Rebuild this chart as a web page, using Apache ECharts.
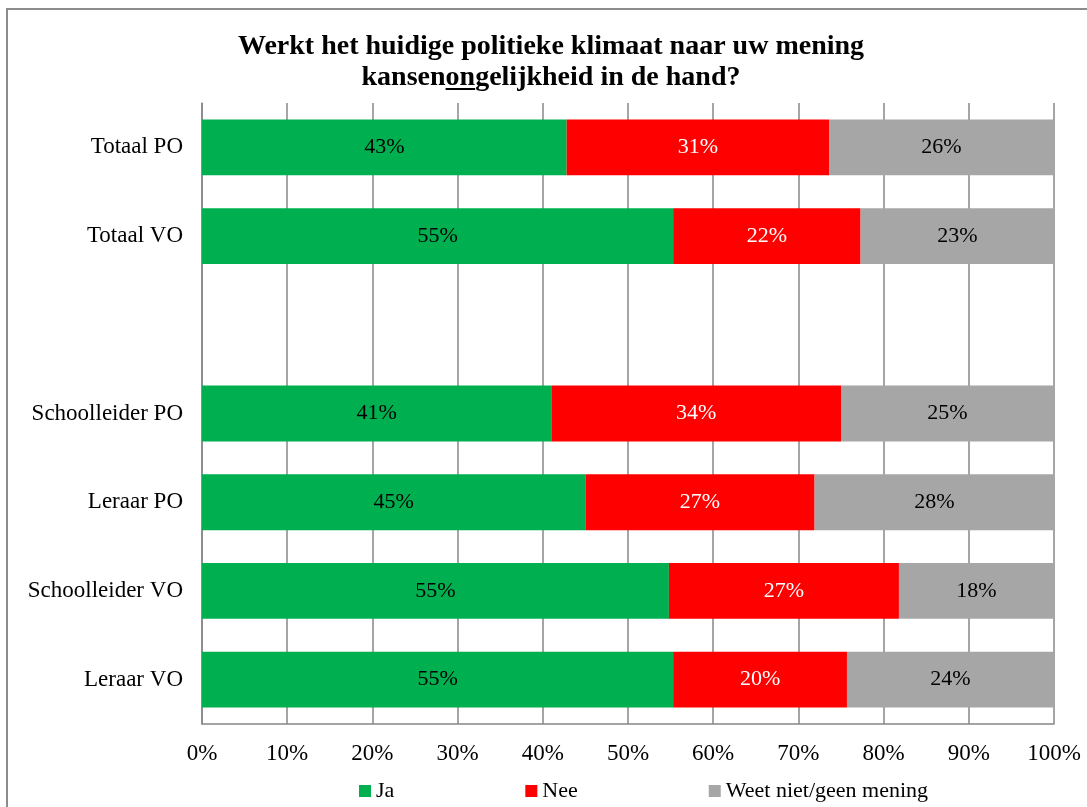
<!DOCTYPE html>
<html>
<head>
<meta charset="utf-8">
<script src="https://cdn.jsdelivr.net/npm/echarts@6/dist/echarts.min.js"></script>
<style>
  html, body { margin: 0; padding: 0; background: #fff; }
  #chart { width: 1087px; height: 807px; }
</style>
</head>
<body>
<div id="chart"></div>
<script>
  var categories = ['Totaal PO', 'Totaal VO', '', 'Schoolleider PO', 'Leraar PO', 'Schoolleider VO', 'Leraar VO'];
  var ja = [42.8, 55.3, null, 41.0, 45.0, 54.8, 55.3];
  var nee = [30.8, 22.0, null, 34.0, 26.9, 27.0, 20.4];
  var weetNiet = [26.4, 22.7, null, 25.0, 28.1, 18.2, 24.3];
  var seriesNames = ['Ja', 'Nee', 'Weet niet/geen mening'];
  var xTicks = [0, 10, 20, 30, 40, 50, 60, 70, 80, 90, 100];

  var FONT = '"Liberation Serif", "DejaVu Serif", serif';
  var titleLine1 = 'Werkt het huidige politieke klimaat naar uw mening';
  var titlePre = 'kansen', titleUnder = 'on', titlePost = 'gelijkheid in de hand?';
  var titleX = 551, titleSize = 28;

  function pct(p) { return Math.round(p.value) + '%'; }

  function barSeries(name, data, color, labelColor) {
    return {
      name: name,
      type: 'bar',
      stack: 'total',
      barWidth: '63%',
      data: data,
      itemStyle: { color: color },
      label: {
        show: true,
        position: 'inside',
        formatter: pct,
        color: labelColor,
        fontFamily: FONT,
        fontSize: 22
      }
    };
  }

  var chart = echarts.init(document.getElementById('chart'), null, { renderer: 'canvas' });

  chart.setOption({
    animation: false,
    title: {
      text: titleLine1 + '\n' + titlePre + titleUnder + titlePost,
      left: titleX,
      top: 31,
      padding: 0,
      textAlign: 'center',
      textStyle: { fontFamily: FONT, fontWeight: 'bold', fontSize: titleSize, lineHeight: 31, color: '#000' }
    },
    legend: {
      data: seriesNames,
      left: 359,
      top: 779,
      padding: 0,
      itemWidth: 12,
      itemHeight: 12,
      itemGap: 131,
      icon: 'rect',
      textStyle: { fontFamily: FONT, fontSize: 22, color: '#000', lineHeight: 24 }
    },
    grid: { left: 202, right: 33, top: 103, bottom: 83 },
    xAxis: {
      type: 'value',
      min: 0,
      max: 100,
      interval: 10,
      axisLine: { show: true, lineStyle: { color: '#878787', width: 1.5 } },
      axisTick: { show: false },
      axisLabel: {
        formatter: function (v) { return xTicks.indexOf(v) >= 0 ? v + '%' : ''; },
        color: '#000', fontFamily: FONT, fontSize: 23, margin: 18
      },
      splitLine: { show: true, lineStyle: { color: '#878787', width: 1.5 } }
    },
    yAxis: {
      type: 'category',
      inverse: true,
      data: categories,
      axisLine: { show: true, lineStyle: { color: '#878787', width: 1.5 } },
      axisTick: { show: false },
      axisLabel: { color: '#000', fontFamily: FONT, fontSize: 23, margin: 19 }
    },
    series: [
      barSeries(seriesNames[0], ja, '#00B050', '#000'),
      barSeries(seriesNames[1], nee, '#FF0000', '#fff'),
      barSeries(seriesNames[2], weetNiet, '#A6A6A6', '#000')
    ]
  });

  // frame round the chart and the underline under "on" in the title
  var ctx = document.createElement('canvas').getContext('2d');
  ctx.font = 'bold ' + titleSize + 'px ' + FONT;
  var fullW = ctx.measureText(titlePre + titleUnder + titlePost).width;
  var preW = ctx.measureText(titlePre).width;
  var underW = ctx.measureText(titleUnder).width;
  var ulX = titleX - fullW / 2 + preW;

  chart.setOption({
    graphic: [
      {
        type: 'rect',
        silent: true,
        shape: { x: 7, y: 9, width: 1100, height: 830 },
        style: { fill: null, stroke: '#8c8c8c', lineWidth: 2 }
      },
      {
        type: 'line',
        silent: true,
        shape: { x1: ulX, y1: 89, x2: ulX + underW, y2: 89 },
        style: { stroke: '#000', lineWidth: 2 }
      }
    ]
  });
</script>
</body>
</html>
